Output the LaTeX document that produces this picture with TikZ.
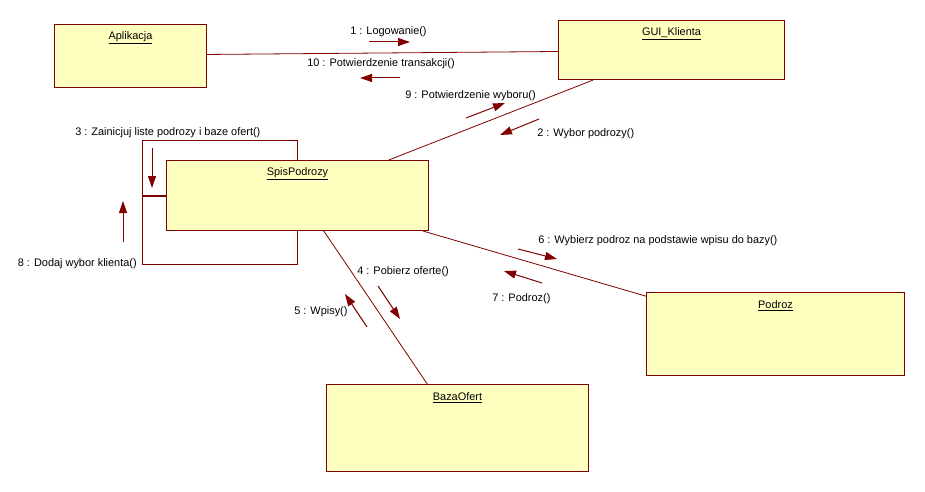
\documentclass[tikz,border=0pt]{standalone}
\usepackage{fontspec}
\setmainfont{Liberation Sans}
\usetikzlibrary{arrows.meta,calc}
\definecolor{maroon}{HTML}{800000}
\definecolor{objfill}{HTML}{FFFFC0}
\begin{document}
\begin{tikzpicture}[x=0.75pt,y=-0.75pt,
  font=\fontsize{8.2}{9.8}\selectfont,
  obj/.style={draw=maroon,fill=objfill,line width=0.75pt,inner sep=0pt,anchor=north west},
  objname/.style={label={[anchor=center,yshift=-10.5pt,inner sep=0pt]north:\underline{#1}}},
  link/.style={draw=maroon,line width=0.6pt},
  msg/.style={draw=maroon,line width=0.75pt,-{Triangle[length=9pt,width=6pt]}},
  txt/.style={inner sep=0pt,anchor=west}]
\useasboundingbox (0,0) rectangle (925,492);
% self-call loop of SpisPodrozy, drawn first so the object covers it
\draw[link] (142,140) rectangle (297,264);
\coordinate (loopL) at (142,196);
% objects
\node[obj,minimum width=152*0.75pt,minimum height=63*0.75pt,objname=Aplikacja] (apl) at (54,24) {};
\node[obj,minimum width=226*0.75pt,minimum height=59*0.75pt,objname=GUI\_Klienta] (gui) at (558,20) {};
\node[obj,minimum width=262*0.75pt,minimum height=70*0.75pt,objname=SpisPodrozy] (spis) at (166,160) {};
\node[obj,minimum width=262*0.75pt,minimum height=87*0.75pt,objname=BazaOfert] (baza) at (326,384) {};
\node[obj,minimum width=258*0.75pt,minimum height=83*0.75pt,objname=Podroz] (podroz) at (646,292) {};
% links
\draw[link] ($(apl.north east)!0.476!(apl.south east)$) -- ($(gui.north west)!0.525!(gui.south west)$);
\draw[link] ($(gui.south west)!0.155!(gui.south east)$) -- ($(spis.north west)!0.847!(spis.north east)$);
\draw[link] ($(spis.south west)!0.977!(spis.south east)$) -- ($(podroz.north west)!0.05!(podroz.south west)$);
\draw[link] ($(spis.south west)!0.6!(spis.south east)$) -- ($(baza.north west)!0.385!(baza.north east)$);
\draw[draw=maroon,line width=1.5pt] (loopL) -- (spis.west |- loopL);
% message labels
\node[txt] (t1) at (350,32) {1 : Logowanie()};
\node[txt] (t10) at (307,64) {10 : Potwierdzenie transakcji()};
\node[txt] (t9) at (405,96) {9 : Potwierdzenie wyboru()};
\node[txt] (t2) at (537,134) {2 : Wybor podrozy()};
\node[txt] (t3) at (75,133) {3 : Zainicjuj liste podrozy i baze ofert()};
\node[txt,anchor=east] (t8) at (137,264) {8 : Dodaj wybor klienta()};
\node[txt] (t4) at (357,272) {4 : Pobierz oferte()};
\node[txt] (t5) at (294,312) {5 : Wpisy()};
\node[txt] (t6) at (538,241) {6 : Wybierz podroz na podstawie wpisu do bazy()};
\node[txt] (t7) at (492,299) {7 : Podroz()};
% message arrows
\coordinate (m1a) at (369,42);  \coordinate (m1b) at (410,42);
\coordinate (m10a) at (400,78); \coordinate (m10b) at (360,78);
\coordinate (m9a) at (466,118); \coordinate (m9b) at (505,103);
\coordinate (m2a) at (539,119); \coordinate (m2b) at (500,135);
\coordinate (m3a) at (152,148); \coordinate (m3b) at (152,188);
\coordinate (m8a) at (123,242); \coordinate (m8b) at (123,201);
\coordinate (m4a) at (378,286); \coordinate (m4b) at (400,319);
\coordinate (m5a) at (367,327); \coordinate (m5b) at (345,294);
\coordinate (m6a) at (518,249); \coordinate (m6b) at (557,259);
\coordinate (m7a) at (542,283); \coordinate (m7b) at (504,271);
\foreach \m in {1,10,9,2,3,8,4,5,6,7}
  \draw[msg] (m\m a) -- (m\m b);
\end{tikzpicture}
\end{document}
